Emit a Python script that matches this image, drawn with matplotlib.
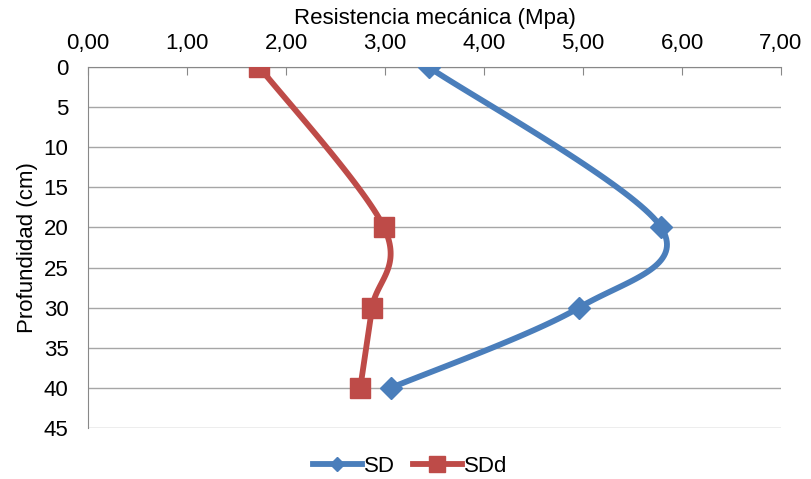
import numpy as np
import matplotlib
matplotlib.use("Agg")
import matplotlib.pyplot as plt
from matplotlib.ticker import FuncFormatter

plt.rcParams['font.family'] = ['Liberation Sans', 'DejaVu Sans']

depth = [0, 20, 30, 40]
sd = [3.44, 5.79, 4.96, 3.06]
sdd = [1.73, 2.99, 2.87, 2.75]
x_ticks = [0, 1, 2, 3, 4, 5, 6, 7]
y_ticks = [0, 5, 10, 15, 20, 25, 30, 35, 40, 45]


def smooth(xs, ys, sx=99.0, sy=8.0, n=40):
    # Excel-like smoothed line: cubic bezier, control points from neighbours
    p = np.column_stack([np.array(xs) * sx, np.array(ys) * sy])
    m = len(p)
    out = []
    for i in range(m - 1):
        p0 = p[i - 1] if i > 0 else p[i]
        p1 = p[i]
        p2 = p[i + 1]
        p3 = p[i + 2] if i + 2 < m else p[i + 1]
        c1 = p1 + (p2 - p0) / 6
        c2 = p2 - (p3 - p1) / 6
        t = np.linspace(0, 1, n)[:, None]
        seg = (1 - t) ** 3 * p1 + 3 * (1 - t) ** 2 * t * c1 + 3 * (1 - t) * t ** 2 * c2 + t ** 3 * p2
        out.append(seg)
    out = np.vstack(out)
    return out[:, 0] / sx, out[:, 1] / sy


fig = plt.figure(figsize=(8.11, 4.79), dpi=100)
ax = fig.add_axes([88 / 811, 1 - 428 / 479, (781 - 88) / 811, (428 - 67) / 479])

blue = '#4A7EBB'
red = '#BE4B48'

bx, by = smooth(sd, depth)
rx, ry = smooth(sdd, depth)
ax.plot(bx, by, color=blue, lw=4.2, solid_capstyle='round', zorder=3)
ax.plot(sd, depth, ls='none', marker='D', ms=11, color=blue, zorder=4)
ax.plot(rx, ry, color=red, lw=4.2, solid_capstyle='round', zorder=3)
ax.plot(sdd, depth, ls='none', marker='s', ms=14, color=red, zorder=4)

# legend proxies
ax.plot([], [], color=blue, lw=4.2, marker='D', ms=7, label='SD')
ax.plot([], [], color=red, lw=4.2, marker='s', ms=11, label='SDd')

ax.set_xlim(0, 7)
ax.set_ylim(45, 0)
ax.set_xticks(x_ticks)
ax.set_yticks(y_ticks)
ax.xaxis.tick_top()
ax.xaxis.set_label_position('top')
ax.xaxis.set_major_formatter(FuncFormatter(lambda v, p: f"{v:.2f}".replace('.', ',')))
ax.tick_params(axis='x', direction='in', length=6, color='#888888', labelsize=16, pad=9)
ax.tick_params(axis='y', direction='out', length=0, labelsize=16, pad=14)
ax.grid(axis='y', color='#A6A6A6', lw=1)
ax.set_axisbelow(True)
for s in ['right', 'bottom']:
    ax.spines[s].set_visible(False)
for s in ['top', 'left']:
    ax.spines[s].set_color('#888888')
ax.set_xlabel('Resistencia mecánica (Mpa)', fontsize=16, labelpad=7)
ax.set_ylabel('Profundidad (cm)', fontsize=16, labelpad=4)

fig.legend(loc='center', bbox_to_anchor=(410 / 811, 1 - 466 / 479), ncol=2, frameon=False,
           fontsize=16, handlelength=2.2, columnspacing=0.8, handletextpad=0.1)

fig.savefig('out.png', dpi=100)
